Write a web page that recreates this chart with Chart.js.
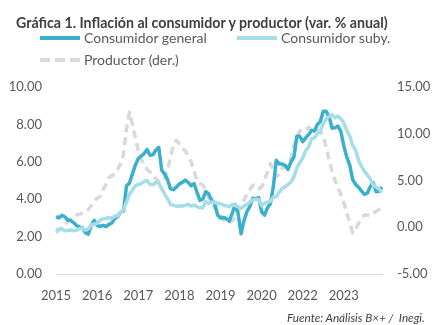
<!DOCTYPE html>
<html><head><meta charset="utf-8">
<script src="https://cdn.jsdelivr.net/npm/chart.js@4.4.0/dist/chart.umd.min.js"></script>
<style>
html,body{margin:0;padding:0;background:#fff;}
#wrap{position:relative;width:436px;height:325px;overflow:hidden;font-family:Lato,sans-serif;}
canvas{position:absolute;left:0;top:0;}
#title{position:absolute;left:16px;top:14px;font-weight:bold;font-size:14.2px;color:#404040;white-space:nowrap;}
.lg{position:absolute;font-size:14px;color:#595959;white-space:nowrap;line-height:16px;}
.sw{display:inline-block;width:40px;height:4px;vertical-align:middle;margin-right:4px;position:relative;top:-1px;}
#src{position:absolute;left:287px;top:311px;line-height:13px;font-style:italic;font-size:11.7px;color:#404040;white-space:nowrap;}
</style></head><body>
<div id="wrap">
<canvas id="c" width="436" height="325"></canvas>
<div id="title">Gráfica 1. Inflación al consumidor y productor (var. % anual)</div>
<div class="lg" style="left:40px;top:30px"><span class="sw" style="background:#3AB0CC"></span>Consumidor general</div>
<div class="lg" style="left:237px;top:30px"><span class="sw" style="background:#A6DDEA"></span>Consumidor suby.</div>
<div class="lg" style="left:40px;top:52px"><svg class="sw" width="40" height="4" style="height:4px"><line x1="0" y1="2" x2="40" y2="2" stroke="#D9D9D9" stroke-width="4" stroke-dasharray="10,5"/></svg>Productor (der.)</div>
<div id="src">Fuente: Análisis B×+ /&nbsp; Inegi.</div>
</div>
<script>
// Monthly data, Jan 2015 - Apr 2024
const years = [2015,2016,2017,2018,2019,2020,2021,2022,2023,2024];
const tickLabels = ['2015','2016','2017','2018','2019','2020','2022','2023'];
const tickEvery = 14;

const consumidorGeneral = [
 3.07,3.00,3.14,3.06,2.88,2.87,2.74,2.59,2.52,2.48,2.21,2.13,
 2.61,2.87,2.60,2.54,2.60,2.54,2.65,2.73,2.97,3.06,3.31,3.36,
 4.72,4.86,5.35,5.82,6.16,6.31,6.44,6.66,6.35,6.37,6.63,6.77,
 5.55,5.34,5.04,4.55,4.51,4.65,4.81,4.90,5.02,4.90,4.72,4.83,
 4.37,3.94,4.00,4.41,4.28,3.95,3.78,3.16,3.00,3.02,2.97,2.83,
 3.24,3.70,3.25,2.15,2.84,3.33,3.62,4.05,4.01,4.09,3.33,3.15,
 3.54,3.76,4.67,6.08,5.89,5.88,5.81,5.59,6.00,6.24,7.37,7.36,
 7.07,7.28,7.45,7.68,7.65,7.99,8.15,8.70,8.70,8.41,7.80,7.82,
 7.91,7.62,6.85,6.25,5.84,5.06,4.79,4.64,4.45,4.26,4.32,4.66,
 4.88,4.40,4.42,4.65];
const consumidorSuby = [
 2.39,2.37,2.41,2.31,2.33,2.35,2.31,2.34,2.42,2.47,2.34,2.41,
 2.64,2.66,2.71,2.88,2.95,2.97,3.02,2.97,3.10,3.10,3.29,3.44,
 3.85,4.26,4.48,4.72,4.78,4.83,4.94,5.00,4.80,4.77,4.90,4.87,
 4.56,4.27,4.02,3.71,3.69,3.62,3.63,3.63,3.67,3.73,3.63,3.68,
 3.60,3.54,3.55,3.87,3.77,3.85,3.82,3.78,3.75,3.68,3.65,3.59,
 3.73,3.66,3.60,3.50,3.64,3.71,3.85,3.97,3.99,3.98,3.66,3.80,
 3.84,3.87,4.12,4.13,4.37,4.58,4.66,4.78,4.92,5.19,5.67,5.94,
 6.21,6.59,6.78,7.22,7.28,7.49,7.65,8.05,8.28,8.42,8.51,8.35,
 8.45,8.29,8.09,7.67,7.39,6.89,6.64,6.08,5.76,5.50,5.30,5.09,
 4.76,4.64,4.55,4.37];
const productor = [
 -0.6,-0.3,0.1,0.3,0.6,0.9,1.1,1.3,1.4,1.5,1.6,1.9,
 2.3,2.8,3.1,3.3,4.0,4.6,5.3,5.5,5.7,6.2,6.8,7.8,
 10.5,12.3,11.0,9.6,8.2,7.3,6.7,6.2,5.9,5.6,5.2,4.9,
 4.8,5.2,6.2,7.5,8.8,9.3,8.9,8.4,8.2,7.6,7.0,6.0,
 5.0,4.7,4.5,4.0,3.2,2.6,2.1,1.7,1.3,0.8,0.4,0.5,
 0.7,1.0,1.6,2.3,2.9,3.5,4.0,4.5,4.4,4.1,4.3,5.0,
 5.9,6.8,6.2,5.4,5.7,6.3,6.5,6.6,7.4,8.8,9.6,10.3,
 10.2,10.4,10.7,10.4,10.2,10.4,10.2,9.8,8.6,7.2,6.0,5.0,
 4.3,3.5,2.6,1.5,0.6,-0.6,-0.2,0.4,1.0,1.3,1.3,1.2,
 1.5,1.7,1.9,2.2];

const categories = [];
years.forEach(y => { for (let m = 1; m <= 12; m++) { if (categories.length < consumidorGeneral.length) categories.push(y + '-' + String(m).padStart(2,'0')); } });

Chart.defaults.font.family = 'Lato, sans-serif';
Chart.defaults.color = '#595959';

new Chart(document.getElementById('c'), {
  type: 'line',
  data: {
    labels: categories,
    datasets: [
      { label: 'Consumidor general', data: consumidorGeneral, yAxisID: 'y', borderColor: '#3AB0CC', borderWidth: 3.5, order: 1 },
      { label: 'Consumidor suby.', data: consumidorSuby, yAxisID: 'y', borderColor: '#A6DDEA', borderWidth: 3.5, order: 0 },
      { label: 'Productor (der.)', data: productor, yAxisID: 'y1', borderColor: '#D9D9D9', borderWidth: 3.5, borderDash: [8,5], order: 2 }
    ]
  },
  options: {
    responsive: false,
    animation: false,
    devicePixelRatio: 1,
    layout: { padding: { top: 87, bottom: 0, left: 0, right: 0 } },
    elements: { point: { radius: 0 }, line: { tension: 0, borderJoinStyle: 'round', fill: false } },
    plugins: { legend: { display: false }, tooltip: { enabled: false }, title: { display: false } },
    scales: {
      x: {
        type: 'category', offset: false,
        grid: { display: false, drawTicks: false },
        border: { display: true, color: '#D9D9D9', width: 1 },
        ticks: { autoSkip: false, maxRotation: 0, minRotation: 0, padding: 14, font: { size: 13 },
          callback: function(v, i) { return i % tickEvery === 0 ? tickLabels[i / tickEvery] : ''; } },
        afterFit: s => { s.height = 51; }
      },
      y: {
        position: 'left', min: 0, max: 10,
        grid: { display: false, drawTicks: false }, border: { display: false },
        ticks: { stepSize: 2, padding: 14, font: { size: 13 }, callback: v => v.toFixed(2) },
        afterFit: s => { s.width = 56; }
      },
      y1: {
        position: 'right', min: -5, max: 15,
        grid: { display: false, drawTicks: false }, border: { display: false },
        ticks: { stepSize: 5, padding: 15, font: { size: 13 }, callback: v => v.toFixed(2) },
        afterFit: s => { s.width = 54; }
      }
    }
  }
});
</script>
</body></html>
